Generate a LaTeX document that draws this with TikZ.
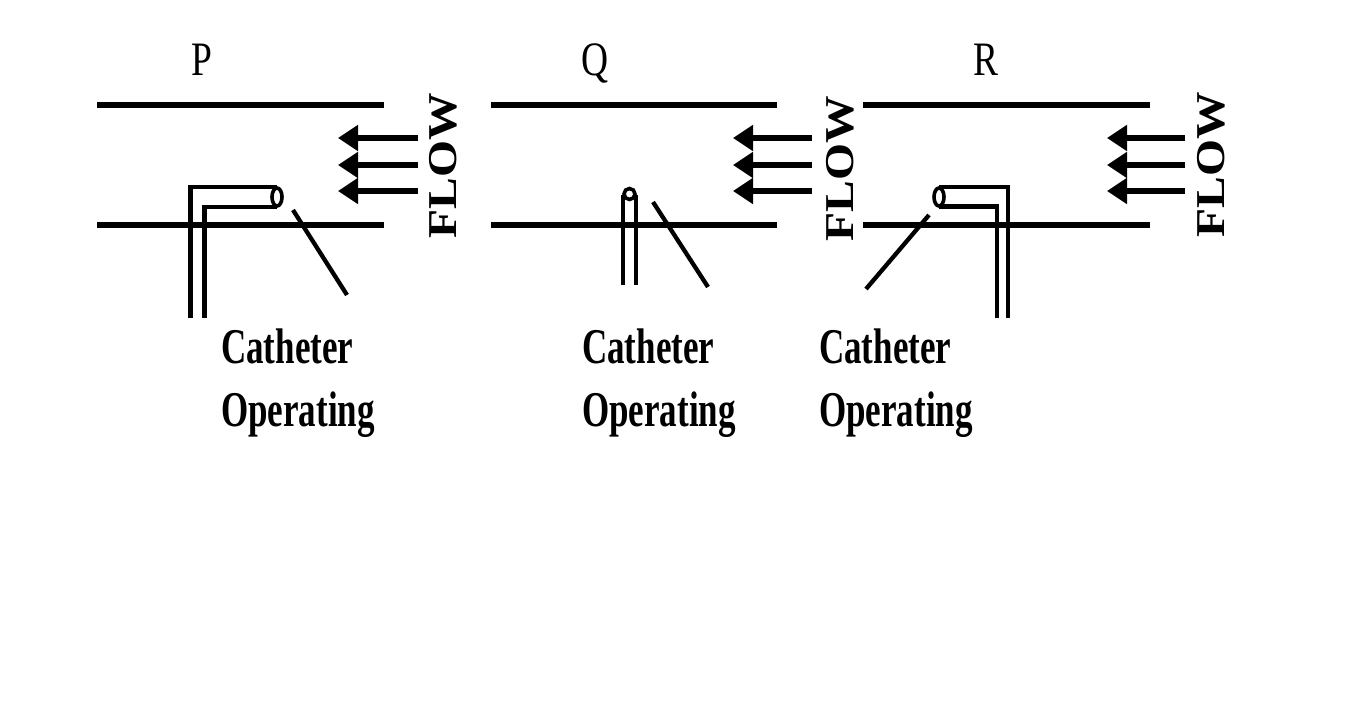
\documentclass[tikz,border=0pt]{standalone}
\usepackage{fontspec}
\setmainfont{Liberation Serif}
\usetikzlibrary{arrows.meta}
\newcommand\cathtext[1]{\scalebox{0.7}[1]{\fontsize{50}{50}\selectfont\bfseries #1}}
\newcommand\paneltext[1]{\scalebox{0.78}[1]{\fontsize{48}{48}\selectfont #1}}
\newcommand\flowtext{\scalebox{1.16}[1]{\fontsize{41}{41}\selectfont\bfseries FLOW}}
\begin{document}
\begin{tikzpicture}[x=1pt,y=-1pt,
  wall/.style={line width=6.5pt},
  flowarrow/.style={line width=6pt,-{Triangle[length=20pt,width=25pt]}},
  tube/.style={line width=4.5pt,line join=miter},
  tubeend/.style={line width=3.6pt,fill=white},
  pointer/.style={line width=4.3pt},
  lbl/.style={inner sep=0pt,anchor=base west},
  ttl/.style={inner sep=0pt,anchor=base},
  flowlbl/.style={inner sep=0pt,rotate=90}]
\useasboundingbox (0,0) rectangle (1354,718);
\fill[white] (0,0) rectangle (1354,718);

% ---------- Panel P ----------
\node[ttl] (tP) at (202,75) {\paneltext{P}};
\draw[wall] (97,105) -- (384,105);
\draw[wall] (97,225) -- (384,225);
\foreach \yy in {138,165,191} \draw[flowarrow] (418,\yy) -- (338,\yy);
\node[flowlbl] (fP) at (443.5,165.5) {\flowtext};
\draw[tube] (190.5,318) -- (190.5,187) -- (277,187);
\draw[tube] (204.5,318) -- (204.5,207) -- (277,207);
\draw[tubeend] (277,197) ellipse[x radius=5,y radius=9];
\draw[pointer] (293,210) -- (347,295);
\node[lbl] (cP) at (221,363) {\cathtext{Catheter}};
\node[lbl] (oP) at (221,426) {\cathtext{Operating}};

% ---------- Panel Q ----------
\node[ttl] (tQ) at (595.5,75) {\paneltext{Q}};
\draw[wall] (491,105) -- (777,105);
\draw[wall] (491,225) -- (777,225);
\foreach \yy in {138,165,191} \draw[flowarrow] (812,\yy) -- (733,\yy);
\node[flowlbl] (fQ) at (840,169) {\flowtext};
\draw[tube] (623,195) -- (623,285);
\draw[tube] (636,195) -- (636,285);
\draw[tubeend] (629.5,194) circle[radius=5.5];
\draw[pointer] (653,202) -- (708,287);
\node[lbl] (cQ) at (582,363) {\cathtext{Catheter}};
\node[lbl] (oQ) at (582,426) {\cathtext{Operating}};

% ---------- Panel R ----------
\node[ttl] (tR) at (985.5,75) {\paneltext{R}};
\draw[wall] (863,105) -- (1150,105);
\draw[wall] (863,225) -- (1150,225);
\foreach \yy in {138,165,191} \draw[flowarrow] (1185,\yy) -- (1107,\yy);
\node[flowlbl] (fR) at (1211,165) {\flowtext};
\draw[tube] (1008,318) -- (1008,187) -- (939,187);
\draw[tube] (997,318) -- (997,206.5) -- (939,206.5);
\draw[tubeend] (939,197) ellipse[x radius=5,y radius=9];
\draw[pointer] (929,215) -- (866,289);
\node[lbl] (cR) at (819,363) {\cathtext{Catheter}};
\node[lbl] (oR) at (819,426) {\cathtext{Operating}};
\end{tikzpicture}
\end{document}
